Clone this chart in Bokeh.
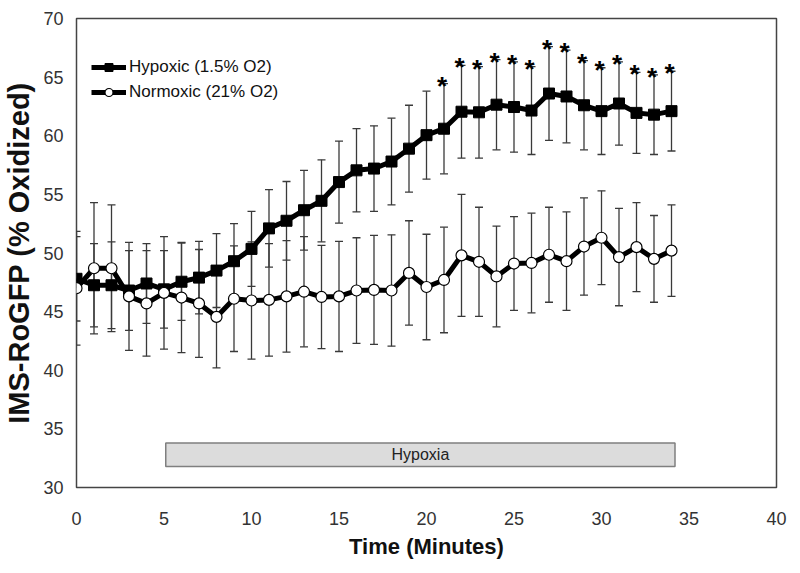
from bokeh.plotting import figure
from bokeh.models import FixedTicker, Legend, LegendItem
from bokeh.embed import file_html
from bokeh.resources import INLINE
from bokeh.core.properties import value

# ---- data ----
time_min = list(range(35))
hyp_mean = [47.8, 47.25, 47.25, 46.8, 47.4, 46.9, 47.55, 47.9, 48.5, 49.3,
            50.35, 52.1, 52.75, 53.65, 54.45, 56.05, 57.05, 57.2, 57.8, 58.9,
            60.05, 60.6, 62.05, 62.0, 62.65, 62.45, 62.15, 63.6, 63.35, 62.6,
            62.1, 62.75, 61.95, 61.8, 62.1]
hyp_se = [3.6, 3.55, 3.7, 3.4, 3.4, 3.3, 3.3, 3.1, 3.15, 3.2,
          3.2, 3.3, 3.35, 3.4, 3.5, 3.5, 3.55, 3.65, 3.7, 3.7,
          3.75, 3.85, 3.95, 3.9, 3.85, 3.85, 3.75, 4.0, 3.95, 3.8,
          3.7, 3.55, 3.45, 3.4, 3.4]
norm_mean = [47.0, 48.7, 48.7, 46.3, 45.7, 46.6, 46.2, 45.7, 44.55, 46.1,
             45.95, 46.0, 46.3, 46.7, 46.25, 46.3, 46.8, 46.85, 46.8, 48.3,
             47.1, 47.7, 49.8, 49.25, 48.0, 49.1, 49.15, 49.85, 49.3, 50.55,
             51.3, 49.65, 50.5, 49.5, 50.2]
norm_se = [4.85, 5.6, 5.4, 4.6, 4.5, 4.8, 4.7, 4.6, 4.35, 4.5,
           5.0, 4.8, 4.75, 4.7, 4.4, 4.7, 4.5, 4.65, 4.75, 4.45,
           4.5, 4.5, 5.2, 4.65, 4.3, 4.0, 4.25, 4.05, 4.2, 4.15,
           4.0, 4.15, 3.8, 3.7, 3.9]
sig_times = list(range(21, 35))
x_ticks = [0, 5, 10, 15, 20, 25, 30, 35, 40]
y_ticks = [30, 35, 40, 45, 50, 55, 60, 65, 70]
hypoxia_period = [5.1, 34.2]
hypoxia_band = [31.8, 33.8]
series_labels = ["Hypoxic (1.5% O2)", "Normoxic (21% O2)"]

FONT = value("Liberation Sans")

p = figure(frame_width=700, frame_height=469, x_range=(0, 40), y_range=(30, 70),
           output_backend="svg", toolbar_location=None,
           min_border_left=70, min_border_right=14, min_border_top=18, min_border_bottom=70)
p.background_fill_color = "white"
p.border_fill_color = "white"
p.grid.visible = False
p.outline_line_color = "#444444"
p.outline_line_width = 1.5

for ax in (p.xaxis[0], p.yaxis[0]):
    ax.axis_line_color = None
    ax.major_tick_line_color = None
    ax.minor_tick_line_color = None
    ax.major_tick_out = 0
    ax.major_tick_in = 0
    ax.major_label_text_font = "Liberation Sans"
    ax.major_label_text_font_size = "18px"
    ax.major_label_text_color = "#333333"
    ax.axis_label_text_font = "Liberation Sans"
    ax.axis_label_text_font_style = "bold"
    ax.axis_label_text_color = "#111111"

p.xaxis.ticker = FixedTicker(ticks=x_ticks)
p.yaxis.ticker = FixedTicker(ticks=y_ticks)
p.xaxis.major_label_standoff = 24
p.yaxis.major_label_standoff = 13
p.xaxis.axis_label = "Time (Minutes)"
p.xaxis.axis_label_text_font_size = "22px"
p.xaxis.axis_label_standoff = 6
p.yaxis.axis_label = "IMS-RoGFP (% Oxidized)"
p.yaxis.axis_label_text_font_size = "29px"
p.yaxis.axis_label_standoff = 5

# hypoxia bar
p.quad(left=[hypoxia_period[0]], right=[hypoxia_period[1]],
       bottom=[hypoxia_band[0]], top=[hypoxia_band[1]],
       fill_color="#dcdcdc", line_color="#7f7f7f", line_width=1.5)
p.text(x=[(hypoxia_period[0] + hypoxia_period[1]) / 2],
       y=[(hypoxia_band[0] + hypoxia_band[1]) / 2], text=["Hypoxia"],
       text_align="center", text_baseline="middle", text_font=FONT,
       text_font_size="16px", text_color="#222222")

# error bars
ebc = "#3a3a3a"
for mean, se in ((hyp_mean, hyp_se), (norm_mean, norm_se)):
    lo = [m - s for m, s in zip(mean, se)]
    hi = [m + s for m, s in zip(mean, se)]
    p.segment(x0=time_min, y0=lo, x1=time_min, y1=hi, line_color=ebc, line_width=1.3)
    p.scatter(time_min, lo, marker="dash", size=8, line_color=ebc, line_width=1.3)
    p.scatter(time_min, hi, marker="dash", size=8, line_color=ebc, line_width=1.3)

# series
h_line = p.line(time_min, hyp_mean, line_color="black", line_width=5)
h_pts = p.scatter(time_min, hyp_mean, marker="square", size=11,
                  fill_color="black", line_color="black")
n_line = p.line(time_min, norm_mean, line_color="black", line_width=5)
n_pts = p.scatter(time_min, norm_mean, marker="circle", size=11,
                  fill_color="white", line_color="black", line_width=1.2)

# significance stars
p.text(x=sig_times, y=[hyp_mean[t] + hyp_se[t] for t in sig_times],
       text=["*"] * len(sig_times), text_align="center", text_baseline="middle",
       text_font=FONT, text_font_style="bold", text_font_size="26px",
       text_color="black", x_offset=-2, y_offset=2)

legend = Legend(items=[LegendItem(label=series_labels[0], renderers=[h_line, h_pts]),
                       LegendItem(label=series_labels[1], renderers=[n_line, n_pts])],
                location=(15, 385), margin=0, padding=0, spacing=5,
                glyph_width=35, glyph_height=20, label_height=20, label_standoff=3,
                label_text_font="Liberation Sans", label_text_font_size="17px",
                label_text_color="#111111",
                border_line_color=None, background_fill_alpha=0)
p.add_layout(legend, "center")

open("out.html", "w").write(file_html(p, INLINE))
